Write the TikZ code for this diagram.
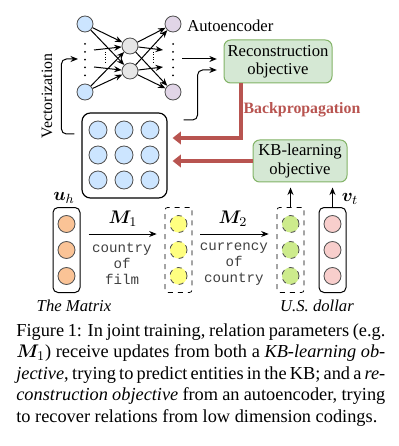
\documentclass[tikz,border=0pt]{standalone}
\usepackage{fontspec}
\setmainfont{Liberation Serif}
\setmonofont{Liberation Mono}
\usepackage{amsmath,bm}
\usetikzlibrary{arrows.meta,positioning,calc}
\definecolor{inblue}{RGB}{204,229,255}
\definecolor{hidgray}{RGB}{230,230,230}
\definecolor{outpurple}{RGB}{225,213,231}
\definecolor{objgreen}{RGB}{213,232,212}
\definecolor{objborder}{RGB}{130,179,102}
\definecolor{backred}{RGB}{184,84,80}
\definecolor{headorange}{RGB}{250,195,150}
\definecolor{midyellow}{RGB}{255,255,128}
\definecolor{midgreen}{RGB}{205,235,140}
\definecolor{tailpink}{RGB}{248,206,204}
\definecolor{circline}{RGB}{80,80,80}

\begin{document}
\begin{tikzpicture}[x=0.6pt,y=-0.6pt,
      n/.style={circle,draw=circline,line width=0.5pt,minimum size=9.6pt,inner sep=0pt},
      c/.style={circle,draw=circline,line width=0.5pt,minimum size=10.2pt,inner sep=0pt},
      obj/.style={draw=objborder,fill=objgreen,rounded corners=4pt,line width=0.6pt,
                  align=center,font=\fontsize{10}{11}\selectfont,inner sep=1pt},
      col/.style={draw,rounded corners=3pt,line width=0.6pt,
                  minimum width=16.2pt,minimum height=51pt,inner sep=0pt},
      dcol/.style={col,dashed,rounded corners=1.5pt,line width=0.45pt},
      a/.style={-{Stealth[length=4.5pt,width=3.6pt]},line width=0.6pt},
      back/.style={-{Triangle[length=5pt,width=7.5pt]},line width=2.4pt,color=backred},
      rel/.style={font=\ttfamily\fontsize{8.5}{9.6}\selectfont,align=center,text=black!75},
      mat/.style={font=\fontsize{11}{13}\selectfont}]
  \useasboundingbox (0,0) rectangle (398,446);
  \node[n,fill=inblue] (i1) at (85,24) {};
  \node[n,fill=inblue] (i2) at (85,92) {};
  \node[n,fill=hidgray] (h1) at (130,46) {};
  \node[n,fill=hidgray] (h2) at (130,71) {};
  \node[n,fill=outpurple] (o1) at (173,24) {};
  \node[n,fill=outpurple] (o2) at (173,92) {};
  \node[right=0pt of o1,yshift=-1pt] (ae) {Autoencoder};
  \coordinate (ida) at (85,44);
  \coordinate (idb) at (85,79);
  \coordinate (oda) at (173,44);
  \coordinate (odb) at (173,79);
  \draw[line width=1.2pt,line cap=round,dash pattern=on 0pt off 4.7pt] (ida) -- (idb);
  \draw[line width=1.2pt,line cap=round,dash pattern=on 0pt off 4.7pt] (oda) -- (odb);
  \draw[densely dotted,line width=0.5pt] (105,52) -- (105,64);
  \draw[densely dotted,line width=0.5pt] (153,52) -- (153,64);
  \coordinate (ia) at (94,50);
  \coordinate (ib) at (94,67);
  \coordinate (oa) at (163,50);
  \coordinate (ob) at (163,67);
  \foreach \s in {i1,i2}
    \foreach \t in {h1,h2}
      \draw[a] (\s) -- (\t);
  \foreach \s in {h1,h2}
    \foreach \t in {o1,o2}
      \draw[a] (\s) -- (\t);
  \draw[a] (ia) -- (h1);
  \draw[a] (ib) -- (h2);
  \draw[a] (h1) -- (oa);
  \draw[a] (h2) -- (ob);

  \node[obj,minimum width=64.8pt,minimum height=25.8pt] (rec) at (278,61.5) {Reconstruction\\objective};
  \node[obj,minimum width=56.4pt,minimum height=25.2pt] (kb) at (300,161) {KB-learning\\objective};
  \coordinate (aeout) at (182,59);
  \draw[a,shorten >=4pt] (aeout) -- (aeout -| rec.west);

  \node[draw,rounded corners=5pt,line width=0.7pt,minimum size=51pt] (grid) at (124.5,155.5) {};
  \foreach \i/\x in {1/98,2/124,3/150}
    \foreach \j/\y in {1/130,2/155,3/180}
      \node[c,minimum size=10.8pt,fill=inblue] (g\i\j) at (\x,\y) {};
  \coordinate (vin) at (78,59);
  \draw[a,rounded corners=3pt] ($(grid.west)+(-7,-21.5)$) -- ++(-13,0) |- (vin);
  \node[rotate=90,font=\fontsize{9.5}{11}\selectfont] (vec) at (47,96) {Vectorization};
  \draw[a,rounded corners=3pt,shorten >=4pt] ($(grid.east)+(16,-35.5)$) -- ++(14,0) |- ($(rec.west)+(0,8.5)$);

  \draw[back] ($(rec.south west)+(17,0)$) |- ($(grid.east)+(5,-17.5)$);
  \draw[back] (kb.west) -- ([xshift=3pt]kb.west -| grid.east);
  \node[font=\bfseries\fontsize{9.5}{11}\selectfont,text=backred] (bp) at (302,110) {Backpropagation};

  \node[col] (uh) at (66.5,250) {};
  \node[dcol] (mid1) at (178.5,250) {};
  \node[dcol] (mid2) at (290.5,250) {};
  \node[col] (vt) at (332.5,250) {};
  \foreach \k/\y in {1/224,2/250,3/276} {
    \node[c,fill=headorange] (u\k) at (66.5,\y) {};
    \node[c,dashed,fill=midyellow] (p\k) at (178.5,\y) {};
    \node[c,dashed,fill=midgreen] (q\k) at (290.5,\y) {};
    \node[c,fill=tailpink] (v\k) at (332.5,\y) {};
  }
  \node[mat] (uhl) at (64,198) {$\bm{u}_h$};
  \node[mat] (vtl) at (350,199) {$\bm{v}_t$};
  \node[font=\itshape] (tm) at (74,306) {The Matrix};
  \node[font=\itshape] (usd) at (317,306) {U.S. dollar};

  \draw[a] ($(uh.east)+(8,-16)$) -- ($(mid1.west)+(-8,-16)$);
  \draw[a] ($(mid1.east)+(8,-16)$) -- ($(mid2.west)+(-8,-16)$);
  \node[mat] (m1) at (123,219) {$\bm{M}_1$};
  \node[mat] (m2) at (233,219) {$\bm{M}_2$};
  \node[rel] (r1) at (122,264) {country\\of\\film};
  \node[rel] (r2) at (234,264) {currency\\of\\country};
  \draw[a,shorten >=3pt] (mid2.north) -- (mid2.north |- kb.south);
  \draw[a,shorten >=3pt] (vt.north) -- (vt.north |- kb.south);

  \node[anchor=north west,inner sep=0pt,text width=221.4pt,align=justify,
        font=\fontsize{11}{12.9}\selectfont] (cap) at (16,323)
    {Figure 1: In joint training, relation parameters (e.g.\linebreak
     $\bm{M}_1$) receive updates from both a \emph{KB-learning ob-}\linebreak
     \emph{jective}, trying to predict entities in the KB; and a \emph{re-}\linebreak
     \emph{construction objective} from an autoencoder, trying\linebreak
     to recover relations from low dimension codings.};
\end{tikzpicture}
\end{document}
